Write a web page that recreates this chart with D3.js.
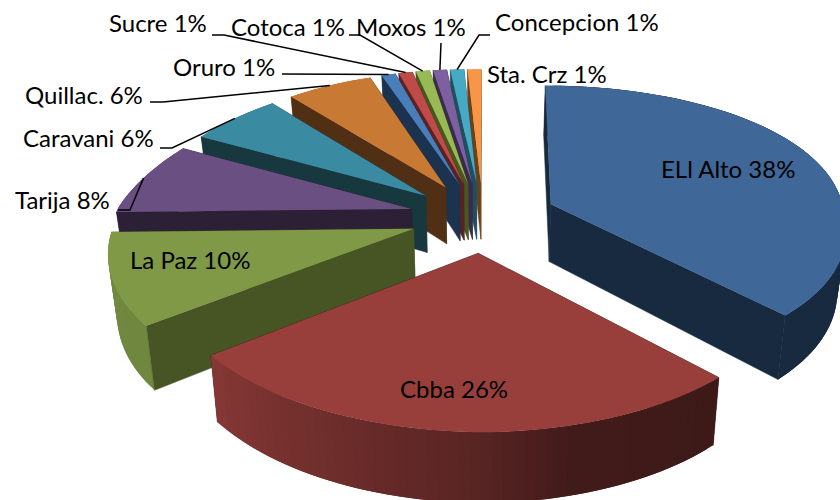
<!DOCTYPE html>
<html>
<head>
<meta charset="utf-8">
<style>html,body{margin:0;padding:0;background:#fff;overflow:hidden}svg{display:block}text{font-family:Lato,"Open Sans",sans-serif;font-size:24px;fill:#000}</style>
<script src="https://cdn.jsdelivr.net/npm/d3@7/dist/d3.min.js"></script>
</head>
<body>
<svg id="c" width="840" height="500"></svg>
<script>
const categories = ["ELl Alto","Cbba","La Paz","Tarija","Caravani","Quillac.","Oruro","Sucre","Cotoca","Moxos","Concepcion","Sta. Crz"];
const values = [38,26,10,8,6,6,1,1,1,1,1,1];
const topColors = ["#3f6797","#983f3c","#7f9947","#6a5082","#3a8aa2","#c87a35","#4a7ebb","#be4b48","#98b954","#7d60a0","#46aac5","#f79646"];
const wallColors = ["#172a40","#3d1a17","#475424","#2b2035","#18383f","#512f14","#1c3350","#5a2220","#46581f","#3a2b4e","#1f5060","#6e4016"];
const labelX = [661,400,130,15,23,25,173,109,231,356,495,487];
const labelY = [178,398,269,209,147,104,76,32,36,36,31,83];
// leader lines: [elbow start x, elbow end x, y]; null when the label sits on its slice
const leaderElbows = [null,null,null,[118,130,210],[160,172,148],[150,163,102],[282,282,74],[212,224,35],[349,360,35],[441,441,43],[490,479,35],null];

const W=840,H=500,cx=483,cy=217,Rx=294,Ry=140,perspNear=0.17,perspFarL=0.27,perspFarR=0.09,perspY=0.15,explode=0.25,roll=0.02;
const svg=d3.select("#c");
const shade=d3.scaleLinear().domain([137,165,180,230,270,360]).range([.40,.43,.58,.88,.9,.9]).clamp(true);
const arcs=d3.pie().sort(null).startAngle(0).endAngle(2*Math.PI).value(d=>d)(values);
const line=d3.line();

function project(theta,r,mid,down){
  const u=Math.sin(theta)*r+Math.sin(mid)*explode;
  const v=-Math.cos(theta)*r-Math.cos(mid)*explode;
  const p=v>=0?perspNear:(u<0?perspFarL:perspFarR);
  const sx=1/(1-p*v), sy=1/(1-perspY*v);
  let x=cx+Rx*u*sx, y=cy+Ry*v*sy+roll*Rx*Math.min(u,0);
  if(down){ const ty=y; x=cx+(x-cx)*0.976; y=ty+45+0.06*ty; }
  return [x,y];
}
function arcPts(a,mid,down){
  const n=Math.max(2,Math.ceil((a.endAngle-a.startAngle)/0.02));
  return d3.range(n+1).map(i=>project(a.startAngle+(a.endAngle-a.startAngle)*i/n,1,mid,down));
}
const order=arcs.map((a,i)=>i).sort((p,q)=>{
  const mp=(arcs[p].startAngle+arcs[p].endAngle)/2, mq=(arcs[q].startAngle+arcs[q].endAngle)/2;
  return (-Math.cos(mp))-(-Math.cos(mq));
});
const g=svg.append("g");
order.forEach(i=>{
  const a=arcs[i], mid=(a.startAngle+a.endAngle)/2, sl=g.append("g");
  const wall=wallColors[i], top=d3.color(topColors[i]);
  const radial=t=>{
    const pts=[project(t,0,mid,false),project(t,1,mid,false),project(t,1,mid,true),project(t,0,mid,true)];
    sl.append("path").attr("d",line(pts)+"Z").attr("fill",wall).attr("stroke",wall).attr("stroke-width",.5);
  };
  const left=mid>Math.PI, front=Math.abs(mid-Math.PI)<0.4;
  radial(left?a.endAngle:a.startAngle);      // hidden side
  if(front) radial(left?a.startAngle:a.endAngle);
  // outer wall, banded by angle; each band overlaps the next so no seams appear
  const n=Math.max(2,Math.ceil((a.endAngle-a.startAngle)/0.03)), da=(a.endAngle-a.startAngle)/n;
  d3.range(n).forEach(k=>{
    const t0=a.startAngle+da*k, t1=Math.min(a.endAngle,t0+da*2);
    const deg=(t0+da/2)*180/Math.PI, f=shade(deg);
    const c=deg<137?wall:d3.rgb(top.r*f,top.g*f,top.b*f).formatHex();
    const pts=[project(t0,1,mid,false),project(t1,1,mid,false),project(t1,1,mid,true),project(t0,1,mid,true)];
    sl.append("path").attr("d",line(pts)+"Z").attr("fill",c);
  });
  if(!front) radial(left?a.startAngle:a.endAngle);   // visible side
  const pts=[project(a.startAngle,0,mid,false)].concat(arcPts(a,mid,false));
  sl.append("path").attr("d",line(pts)+"Z").attr("fill",topColors[i]);
});
// leader lines end at the outer edge of the slice
arcs.forEach((a,i)=>{
  const e=leaderElbows[i]; if(!e) return;
  const mid=(a.startAngle+a.endAngle)/2;
  const end=project(mid,1,mid,false);
  svg.append("path").attr("d",line([[e[0],e[2]],[e[1],e[2]],end])).attr("fill","none").attr("stroke","#000").attr("stroke-width",1.5);
});
svg.selectAll("text.l").data(arcs).join("text").attr("class","l")
  .attr("x",(d,i)=>labelX[i]).attr("y",(d,i)=>labelY[i])
  .text((d,i)=>categories[i]+" "+values[i]+"%");
</script>
</body>
</html>
